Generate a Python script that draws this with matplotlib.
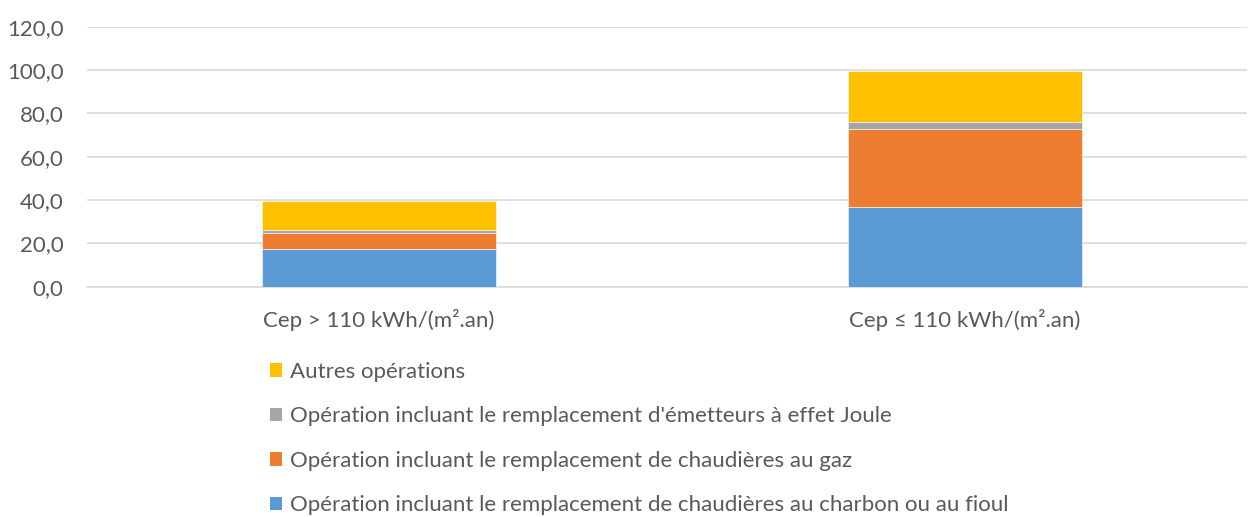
import matplotlib.pyplot as plt
from matplotlib.patches import Patch

categories = ["Cep > 110 kWh/(m².an)", "Cep ≤ 110 kWh/(m².an)"]
series_names = [
    "Opération incluant le remplacement de chaudières au charbon ou au fioul",
    "Opération incluant le remplacement de chaudières au gaz",
    "Opération incluant le remplacement d'émetteurs à effet Joule",
    "Autres opérations",
]
charbon_fioul = [17.4, 36.8]
gaz = [7.5, 36.0]
joule = [1.1, 3.4]
autres = [13.5, 23.5]
y_ticks = [0, 20, 40, 60, 80, 100, 120]

colors = ["#5B9BD5", "#ED7D31", "#A5A5A5", "#FFC000"]
text_color = "#595959"
plt.rcParams['font.family'] = ['Lato', 'DejaVu Sans']
fs = 16

fig = plt.figure(figsize=(12.48, 5.17), dpi=100)
ax = fig.add_axes([87/1248, 1 - 286.7/517, 1160/1248, (286.7 - 26.7)/517])

x = list(range(len(categories)))
bottom = [0.0] * len(categories)
for vals, col in zip([charbon_fioul, gaz, joule, autres], colors):
    ax.bar(x, vals, width=0.4, bottom=bottom, color=col, edgecolor="white", linewidth=0.4, zorder=3)
    bottom = [b + v for b, v in zip(bottom, vals)]

ax.set_ylim(0, 120)
ax.set_xlim(-0.498, 1.481)
ax.set_yticks(y_ticks)
ax.set_yticklabels([f"{t:.1f}".replace(".", ",") for t in y_ticks])
ax.set_xticks(x)
ax.set_xticklabels(categories)
ax.yaxis.grid(True, color="#D9D9D9", linewidth=1.2, zorder=0)
ax.tick_params(axis="both", length=0, colors=text_color, labelsize=fs)
ax.tick_params(axis="y", pad=17)
ax.tick_params(axis="x", pad=16)
for s in ["top", "right", "left"]:
    ax.spines[s].set_visible(False)
ax.spines["bottom"].set_color("#D9D9D9")
ax.spines["bottom"].set_linewidth(1.2)

handles = [Patch(facecolor=c) for c in colors[::-1]]
fig.legend(handles, series_names[::-1], loc="upper left",
           bbox_to_anchor=(270/1248, 1 - 362/517), frameon=False,
           fontsize=fs, labelcolor=text_color, handlelength=0.56,
           handleheight=0.56, handletextpad=0.35, labelspacing=1.1,
           borderpad=0, borderaxespad=0)

fig.savefig("out.png", dpi=100)
